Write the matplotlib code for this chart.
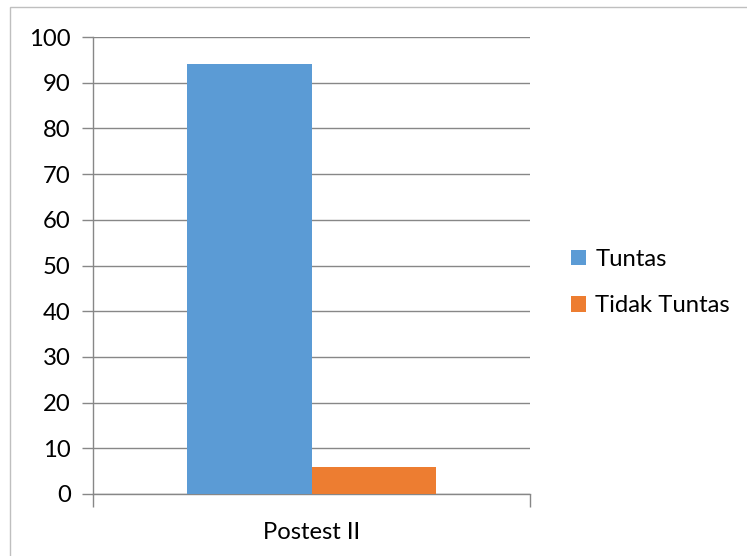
import matplotlib
matplotlib.use('Agg')
import matplotlib.pyplot as plt
from matplotlib.patches import Rectangle
import numpy as np

# Data
category = 'Postest II'
series_names = ['Tuntas', 'Tidak Tuntas']
series_values = [94, 6]
series_colors = ['#5B9BD5', '#ED7D31']
y_ticks = [0, 10, 20, 30, 40, 50, 60, 70, 80, 90, 100]

plt.rcParams['font.family'] = ['Lato', 'DejaVu Sans']
grid_color = '#878787'
fsize = 17.2

fig = plt.figure(figsize=(7.47, 5.56), dpi=100)
ax = fig.add_axes([93/747, 1 - 494/556, 437/747, 457/556])

# Bars, side by side around the single category
bar_w = 0.286
offsets = [-bar_w/2, bar_w/2]
for name, val, col, off in zip(series_names, series_values, series_colors, offsets):
    ax.bar(off, val, width=bar_w, color=col, label=name, zorder=3)

ax.set_xlim(-0.5, 0.5)
ax.set_ylim(0, 100)
ax.set_yticks(y_ticks)
ax.yaxis.grid(True, color=grid_color, linewidth=1.0, zorder=0)
ax.tick_params(axis='y', length=8, width=1.0, color=grid_color, labelsize=fsize, pad=8)

# x axis: ticks only at the ends of the category band
ax.set_xticks([-0.5, 0.5])
ax.set_xticklabels(['', ''])
ax.tick_params(axis='x', length=9, width=1.0, color=grid_color)
ax.text(0.5, -0.085, category, transform=ax.transAxes, fontsize=fsize,
        ha='center', va='center')

for side in ['top', 'right']:
    ax.spines[side].set_visible(False)
for side in ['left', 'bottom']:
    ax.spines[side].set_color(grid_color)
    ax.spines[side].set_linewidth(1.0)

ax.legend(loc='center left', bbox_to_anchor=(1.073, 0.462), frameon=False,
          fontsize=fsize, handlelength=0.6, handleheight=0.6, handletextpad=0.4,
          labelspacing=1.05, borderaxespad=0)

# light frame around the chart area (left and top edges visible)
fig.patches.append(Rectangle((10/747, -0.05), 1.1, 1 - 7/556 + 0.05,
                             transform=fig.transFigure, fill=False,
                             edgecolor='#BFBFBF', linewidth=1.0))

fig.savefig('out.png', dpi=100)
